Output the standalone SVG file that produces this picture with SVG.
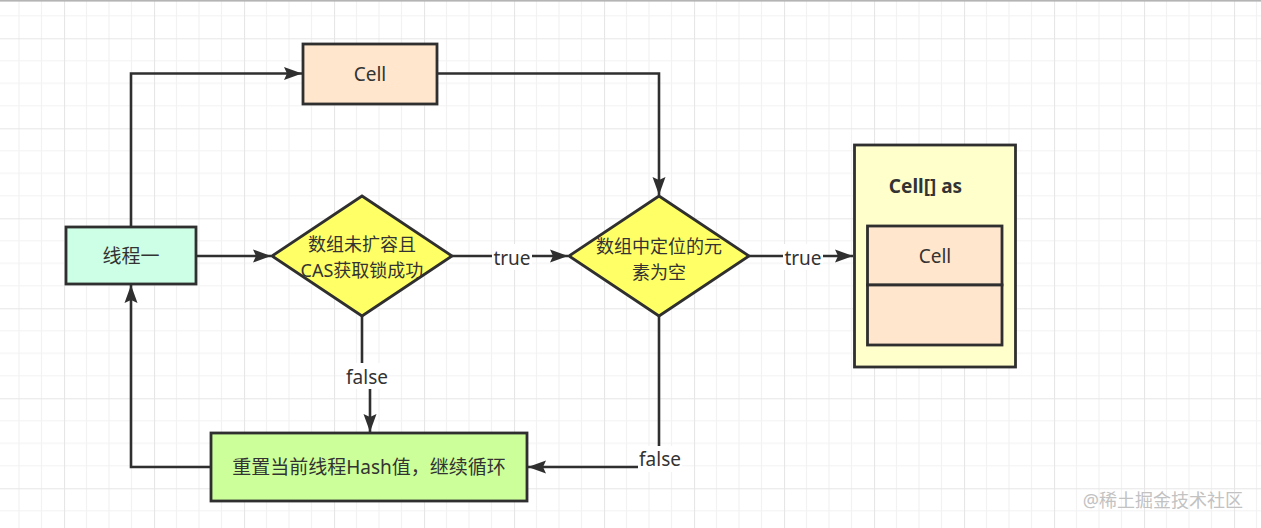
<svg xmlns="http://www.w3.org/2000/svg" width="1261" height="528" viewBox="0 0 1261 528">
<defs>
<pattern id="grid" patternUnits="userSpaceOnUse" x="64" y="38.3" width="90" height="90">
<path d="M22.5,0V90M45,0V90M67.5,0V90M0,22.5H90M0,45H90M0,67.5H90" fill="none" stroke="#f2f2f2" stroke-width="1.2"/>
<path d="M0.5,0V90M0,0.5H90" fill="none" stroke="#e6e6e6" stroke-width="1.2"/>
</pattern>
<marker id="arr" markerUnits="userSpaceOnUse" markerWidth="20" markerHeight="16" viewBox="0 0 20 16" refX="18" refY="8" orient="auto">
<path d="M0,1.5 L18,8 L0,14.5 L3,8 z" fill="#2f2f2f"/>
</marker>
</defs>
<style>
.bx{stroke:#2f2f2f;stroke-width:2.8}
.ln{fill:none;stroke:#2f2f2f;stroke-width:2.6}
.t{font-family:"Noto Sans","Noto Sans CJK SC",sans-serif;font-size:19px;fill:#333;text-anchor:middle;dominant-baseline:central}
.d{font-size:18px}
.lb{fill:#fff}
</style>
<rect width="1261" height="528" fill="#fff"/>
<rect width="1261" height="528" fill="url(#grid)"/>
<rect x="0" y="0" width="1261" height="1.6" fill="#b4b4b4"/>

<g id="connectors">
<path class="ln" d="M131,227V73.5H302" marker-end="url(#arr)"/>
<path class="ln" d="M437,73.5H659V195" marker-end="url(#arr)"/>
<path class="ln" d="M197,256H271" marker-end="url(#arr)"/>
<path class="ln" d="M452,256H568" marker-end="url(#arr)"/>
<rect class="lb" x="492" y="244" width="40" height="26"/>
<text class="t" x="512" y="258">true</text>
<path class="ln" d="M749,256H853" marker-end="url(#arr)"/>
<rect class="lb" x="783" y="244" width="40" height="26"/>
<text class="t" x="803" y="258">true</text>
<path class="ln" d="M362,316V377H370V432" marker-end="url(#arr)"/>
<rect class="lb" x="345" y="363" width="44" height="26"/>
<text class="t" x="367" y="377">false</text>
<path class="ln" d="M659,316V467H528" marker-end="url(#arr)"/>
<rect class="lb" x="638" y="446" width="44" height="26"/>
<text class="t" x="660" y="459">false</text>
<path class="ln" d="M211,467H131V285" marker-end="url(#arr)"/>
</g>

<g id="cell-top">
<rect class="bx" x="303" y="44" width="134" height="60" fill="#ffe6cc"/>
<text class="t" x="370" y="74">Cell</text>
</g>

<g id="thread-one">
<rect class="bx" x="66" y="227" width="130" height="57" fill="#ccffe6"/>
<text class="t" x="131" y="256">线程一</text>
</g>

<g id="diamond-cas">
<path class="bx" d="M362,196L452,256L362,316L272,256z" fill="#ffff66"/>
<text class="t d"><tspan x="362" y="244">数组未扩容且</tspan><tspan x="362" y="270">CAS获取锁成功</tspan></text>
</g>

<g id="diamond-empty">
<path class="bx" d="M659,196L749,256L659,316L569,256z" fill="#ffff66"/>
<text class="t d"><tspan x="659" y="245.5">数组中定位的元</tspan><tspan x="659" y="271.5">素为空</tspan></text>
</g>

<g id="cell-array">
<rect class="bx" x="854.5" y="145" width="161" height="222" fill="#ffffcc"/>
<text class="t" x="925.5" y="186" style="font-weight:bold">Cell[] as</text>
<rect class="bx" x="867.5" y="226" width="134.5" height="59" fill="#ffe6cc"/>
<text class="t" x="935" y="256">Cell</text>
<rect class="bx" x="867.5" y="285" width="134.5" height="60" fill="#ffe6cc"/>
</g>

<g id="reset-hash">
<rect class="bx" x="211" y="433" width="316" height="68" fill="#ccff99"/>
<text class="t" x="369" y="467">重置当前线程Hash值，继续循环</text>
</g>

<text x="1243" y="500" style="font-family:'Noto Sans','Noto Sans CJK SC',sans-serif;font-size:18px;fill:#c2c2c2;text-anchor:end;dominant-baseline:central">@稀土掘金技术社区</text>
</svg>
